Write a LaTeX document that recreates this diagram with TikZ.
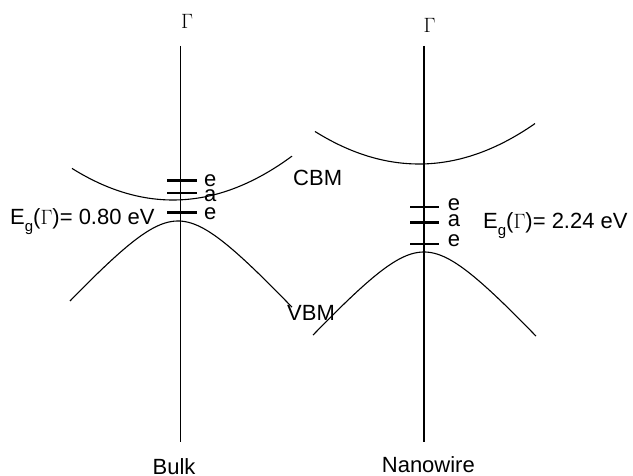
\documentclass[tikz,border=0pt]{standalone}
\usepackage{fontspec}
\setmainfont{Liberation Sans}
\newcommand{\gsub}{\raisebox{-7pt}{\fontsize{15}{15}\selectfont g}}
\begin{document}
\begin{tikzpicture}[x=1pt, y=-1pt, font=\fontsize{22}{26}\selectfont,
	axis/.style={line width=1.3pt},
	band/.style={line width=1.1pt},
	lvl/.style={line width=2.4pt},
	lbl/.style={anchor=base west, inner sep=0pt}]
	
	\useasboundingbox (0,0) rectangle (633,476);
	
	% 1. Hai truc Gamma
	\coordinate (bulkTop) at (180.7,46);
	\coordinate (bulkBot) at (180.7,442);
	\coordinate (wireTop) at (424,46);
	\coordinate (wireBot) at (424,442);
	\draw[axis] (bulkTop) -- (bulkBot);
	\draw[axis] (wireTop) -- (wireBot);
	\node[anchor=base, inner sep=0pt] (gamBulk) at (187,28.3) {$\Gamma$};
	\node[anchor=base, inner sep=0pt] (gamWire) at (429.5,32.3) {$\Gamma$};
	\node[anchor=base, inner sep=0pt] (bulk) at (174,474) {Bulk};
	\node[lbl] (wire) at (381.7,472.7) {Nanowire};
	
	% 2. Vung dan (CBM) va vung hoa tri (VBM)
	\draw[band] plot[smooth, domain=72:292, samples=80] (\x, {200 - 0.0031*(\x-173)^2});
	\draw[band] plot[smooth, domain=70:292, samples=80] (\x, {221 + 50*(sqrt(1+((\x-178)/45)^2)-1)});
	\draw[band] plot[smooth, domain=315:535, samples=80] (\x, {164 - 0.0030*(\x-419)^2});
	\draw[band] plot[smooth, domain=313:536, samples=80] (\x, {252 + 50*(sqrt(1+((\x-424)/45)^2)-1)});
	\node[lbl] (cbm) at (293,186) {CBM};
	\node[lbl] (vbm) at (287,321) {VBM};
	
	% 3. Cac muc tap chat e, a, e
	\draw[lvl] (167,180.7) -- (197,180.7);
	\draw[lvl] (167,193.3) -- (197,193.3);
	\draw[lvl] (167,212.7) -- (197,212.7);
	\node[lbl] (e1Bulk) at (204,187) {e};
	\node[lbl] (aBulk) at (204,201.7) {a};
	\node[lbl] (e2Bulk) at (204,220) {e};
	\draw[lvl] (410,207.3) -- (439,207.3);
	\draw[lvl] (410,222.7) -- (439,222.7);
	\draw[lvl] (410,244) -- (439,244);
	\node[lbl] (e1Wire) at (447.7,211) {e};
	\node[lbl] (aWire) at (447.7,227) {a};
	\node[lbl] (e2Wire) at (447.7,247) {e};
	
	% 4. Do rong vung cam
	\node[lbl] (egBulk) at (10,225) {E\gsub($\Gamma$)= 0.80 eV};
	\node[lbl] (egWire) at (483,228.3) {E\gsub($\Gamma$)= 2.24 eV};
	
\end{tikzpicture}
\end{document}
